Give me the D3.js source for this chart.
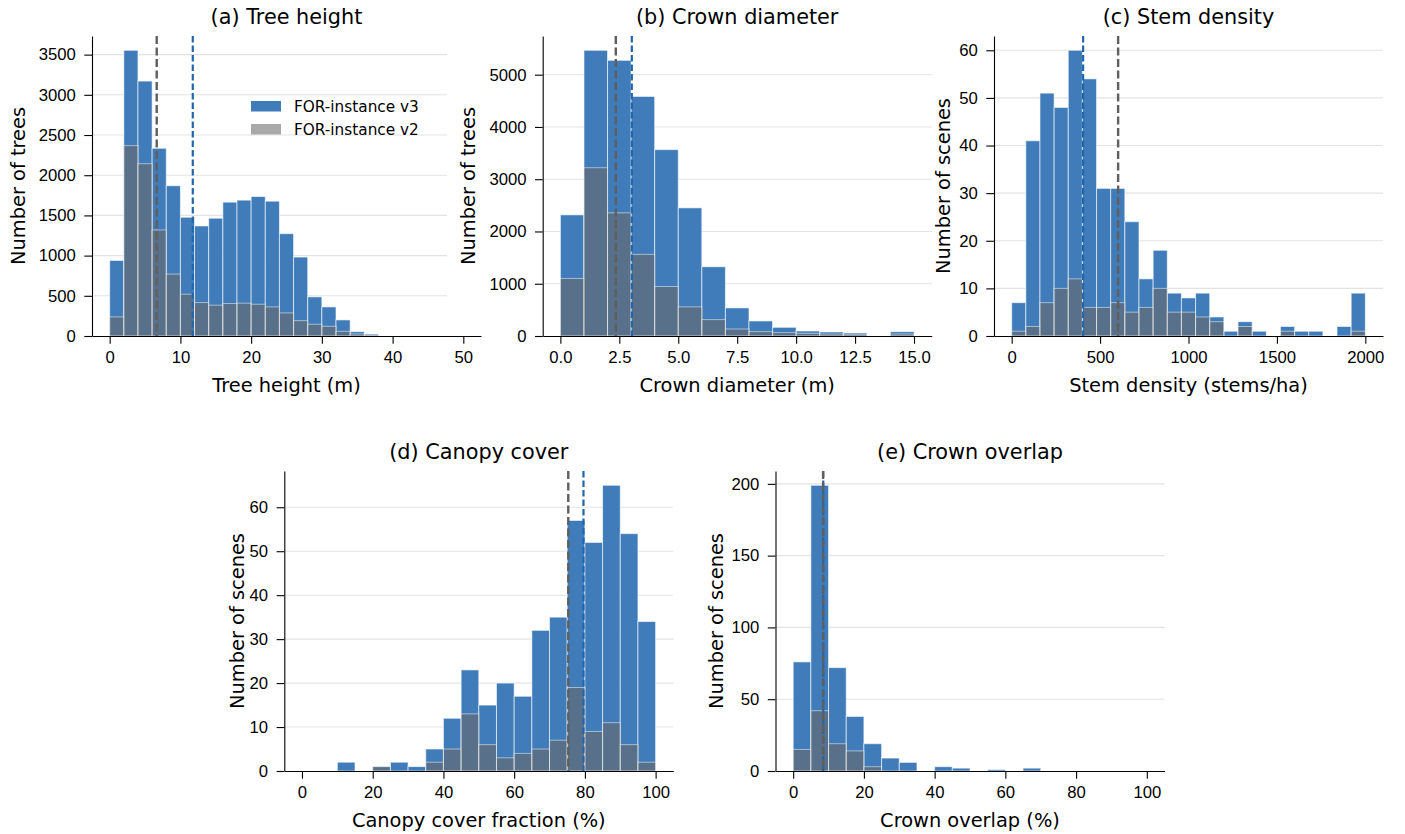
<!DOCTYPE html>
<html>
<head>
<meta charset="utf-8">
<script src="https://cdn.jsdelivr.net/npm/d3@7"></script>
<style>
  body { margin: 0; background: #fff; }
  svg { font-family: "DejaVu Sans", sans-serif; }
  .tick text { font-size: 16.7px; fill: #000; }
  .tick line, .domain { stroke: #000; stroke-width: 1.1; }
</style>
</head>
<body>
<svg id="fig" width="1405" height="834"></svg>
<script>
// histogram counts (v3 = FOR-instance v3, v2 = FOR-instance v2)
const heightV3 = [940, 3554, 3171, 2335, 1869, 1477, 1369, 1465, 1665, 1690, 1735, 1677, 1273, 982, 487, 362, 200, 54, 25, 0, 0, 0, 0, 0, 0];
const heightV2 = [237, 2368, 2143, 1319, 770, 520, 416, 383, 404, 408, 395, 362, 287, 191, 146, 121, 58, 25, 12, 0, 0, 0, 0, 0, 0];
const crownV3 = [2318, 5467, 5275, 4584, 3566, 2452, 1325, 538, 288, 166, 96, 77, 58, 0, 83];
const crownV2 = [1101, 3220, 2356, 1562, 947, 557, 314, 134, 83, 64, 51, 38, 32, 0, 38];
const stemV3 = [7, 41, 51, 48, 60, 54, 31, 31, 24, 12, 18, 9, 8, 9, 4, 1, 3, 1, 0, 2, 1, 1, 0, 2, 9];
const stemV2 = [1, 2, 7, 10, 12, 6, 6, 7, 5, 6, 10, 5, 5, 4, 3, 0, 2, 0, 0, 1, 0, 0, 0, 0, 1];
const canopyV3 = [0, 0, 2, 0, 1, 2, 1, 5, 12, 23, 15, 20, 17, 32, 35, 57, 52, 65, 54, 34];
const canopyV2 = [0, 0, 0, 0, 1, 0, 0, 2, 5, 13, 6, 3, 4, 5, 7, 19, 9, 11, 6, 2];
const overlapV3 = [76, 199, 72, 38, 19, 9, 6, 0, 3, 2, 0, 1, 0, 2, 0, 0, 0, 0, 0, 0];
const overlapV2 = [15, 42, 19, 14, 3, 0, 0, 0, 0, 0, 0, 0, 0, 0, 0, 0, 0, 0, 0, 0];

// mean values (dashed lines)
const heightMeans = { v3: 11.75, v2: 6.65 };
const crownMeans = { v3: 3.03, v2: 2.35 };
const stemMeans = { v3: 404, v2: 602 };
const canopyMeans = { v3: 79.6, v2: 75.3 };
const overlapMeans = { v3: 8.5, v2: 8.45 };

// tick values
const heightXTicks = [0, 10, 20, 30, 40, 50];
const heightYTicks = [0, 500, 1000, 1500, 2000, 2500, 3000, 3500];
const crownXTicks = [0, 2.5, 5, 7.5, 10, 12.5, 15];
const crownYTicks = [0, 1000, 2000, 3000, 4000, 5000];
const stemXTicks = [0, 500, 1000, 1500, 2000];
const sceneYTicks = [0, 10, 20, 30, 40, 50, 60];
const pctXTicks = [0, 20, 40, 60, 80, 100];
const overlapYTicks = [0, 50, 100, 150, 200];

const W = 389, H = 300;
const blue = "#3f7cb9", grey = "#696969";

const panels = [
  { title: "(a) Tree height", xlabel: "Tree height (m)", ylabel: "Number of trees",
    left: 92, top: 36, xDomain: [-2.5, 52.5], binWidth: 2, v3: heightV3, v2: heightV2,
    means: heightMeans, xTicks: heightXTicks, yTicks: heightYTicks, xFmt: d3.format("d"),
    yOff: 74, gridEnd: 355, legend: true },
  { title: "(b) Crown diameter", xlabel: "Crown diameter (m)", ylabel: "Number of trees",
    left: 542.7, top: 36, xDomain: [-0.75, 15.75], binWidth: 1, v3: crownV3, v2: crownV2,
    means: crownMeans, xTicks: crownXTicks, yTicks: crownYTicks, xFmt: d3.format(".1f"), yOff: 74.5 },
  { title: "(c) Stem density", xlabel: "Stem density (stems/ha)", ylabel: "Number of scenes",
    left: 994, top: 36, xDomain: [-100, 2100], binWidth: 80, v3: stemV3, v2: stemV2,
    means: stemMeans, xTicks: stemXTicks, yTicks: sceneYTicks, xFmt: d3.format("d"), yOff: 50.5 },
  { title: "(d) Canopy cover", xlabel: "Canopy cover fraction (%)", ylabel: "Number of scenes",
    left: 284.3, top: 471, xDomain: [-5, 105], binWidth: 5, v3: canopyV3, v2: canopyV2,
    means: canopyMeans, xTicks: pctXTicks, yTicks: sceneYTicks, xFmt: d3.format("d"), yOff: 47.6 },
  { title: "(e) Crown overlap", xlabel: "Crown overlap (%)", ylabel: "Number of scenes",
    left: 775.5, top: 471, xDomain: [-5, 105], binWidth: 5, v3: overlapV3, v2: overlapV2,
    means: overlapMeans, xTicks: pctXTicks, yTicks: overlapYTicks, xFmt: d3.format("d"), yOff: 59 }
];

const svg = d3.select("#fig");

panels.forEach(p => {
  const g = svg.append("g").attr("transform", `translate(${p.left},${p.top})`);
  const x = d3.scaleLinear().domain(p.xDomain).range([0, W]);
  const y = d3.scaleLinear().domain([0, d3.max(p.v3) * 1.05]).range([H, 0]);

  // grid
  g.selectAll(".grid").data(p.yTicks.slice(1)).join("line")
    .attr("x1", 0).attr("x2", p.gridEnd || W)
    .attr("y1", d => y(d)).attr("y2", d => y(d))
    .attr("stroke", "#e3e3e3").attr("stroke-width", 1.1);

  const bins = arr => arr.map((c, i) => ({ x0: i * p.binWidth, c })).filter(d => d.c > 0);

  g.append("g").selectAll("rect").data(bins(p.v3)).join("rect")
    .attr("x", d => x(d.x0)).attr("width", d => x(d.x0 + p.binWidth) - x(d.x0))
    .attr("y", d => y(d.c)).attr("height", d => H - y(d.c))
    .attr("fill", blue).attr("stroke", "#fff").attr("stroke-opacity", 0.6).attr("stroke-width", 1);

  g.append("g").selectAll("rect").data(bins(p.v2)).join("rect")
    .attr("x", d => x(d.x0)).attr("width", d => x(d.x0 + p.binWidth) - x(d.x0))
    .attr("y", d => y(d.c)).attr("height", d => H - y(d.c))
    .attr("fill", grey).attr("fill-opacity", 0.6)
    .attr("stroke", "#fff").attr("stroke-opacity", 0.5).attr("stroke-width", 1);

  // mean lines
  g.append("line").attr("x1", x(p.means.v3)).attr("x2", x(p.means.v3)).attr("y1", 0).attr("y2", H)
    .attr("stroke", "#2166ac").attr("stroke-width", 2.2).attr("stroke-dasharray", "6.5,3");
  g.append("line").attr("x1", x(p.means.v2)).attr("x2", x(p.means.v2)).attr("y1", 0).attr("y2", H)
    .attr("stroke", "#5f5f5f").attr("stroke-width", 2.4).attr("stroke-dasharray", "8,3.5");

  // axes
  g.append("g").attr("transform", `translate(0,${H})`)
    .call(d3.axisBottom(x).tickValues(p.xTicks).tickFormat(p.xFmt).tickSize(7.7).tickSizeOuter(0).tickPadding(7))
    .call(a => a.selectAll("text").attr("dy", "0.74em"));
  g.append("g")
    .call(d3.axisLeft(y).tickValues(p.yTicks).tickFormat(d3.format("d")).tickSize(7.7).tickSizeOuter(0).tickPadding(8.5));

  g.append("text").attr("x", W / 2).attr("y", -12).attr("text-anchor", "middle")
    .attr("font-size", "20.8px").text(p.title);
  g.append("text").attr("x", W / 2).attr("y", H + 56).attr("text-anchor", "middle")
    .attr("font-size", "19.4px").text(p.xlabel);
  g.append("text").attr("transform", `translate(${-p.yOff},${H / 2}) rotate(-90)`)
    .attr("text-anchor", "middle").attr("dy", "0.36em")
    .attr("font-size", "19.4px").text(p.ylabel);

  if (p.legend) {
    const items = [{ label: "FOR-instance v3", color: blue }, { label: "FOR-instance v2", color: "#a9a9a9" }];
    const lg = g.append("g").attr("transform", "translate(159,65)");
    items.forEach((it, i) => {
      lg.append("rect").attr("x", 0).attr("y", i * 23).attr("width", 30).attr("height", 10.5).attr("fill", it.color);
      lg.append("text").attr("x", 43).attr("y", i * 23 + 5.3).attr("dy", "0.35em")
        .attr("font-size", "15.3px").text(it.label);
    });
  }
});
</script>
</body>
</html>
